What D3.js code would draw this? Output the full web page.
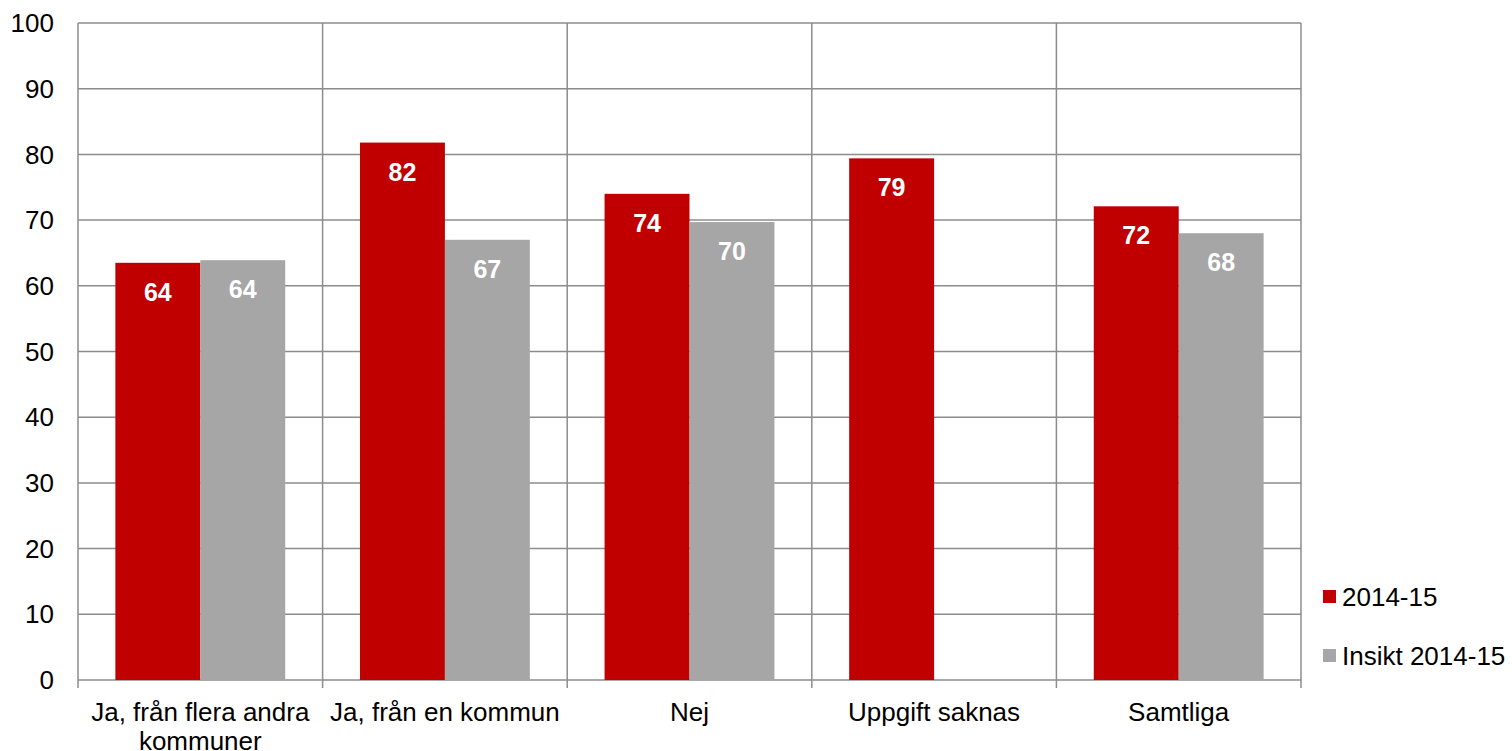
<!DOCTYPE html>
<html>
<head>
<meta charset="utf-8">
<script src="https://cdn.jsdelivr.net/npm/d3@7"></script>
<style>
body { margin: 0; background: #fff; }
svg text { font-family: "Liberation Sans", Arial, sans-serif; }
</style>
</head>
<body>
<div id="container"></div>
<script>
/* Data */
var categories = ["Ja, från flera andra kommuner", "Ja, från en kommun", "Nej", "Uppgift saknas", "Samtliga"];
var seriesNames = ["2014-15", "Insikt 2014-15"];
var values2014 = [63.5, 81.8, 74.0, 79.4, 72.1];
var valuesInsikt = [63.9, 67.0, 69.7, null, 68.0];
var labels2014 = ["64", "82", "74", "79", "72"];
var labelsInsikt = ["64", "67", "70", "", "68"];
var yTicks = [0, 10, 20, 30, 40, 50, 60, 70, 80, 90, 100];
var colors = ["#C00000", "#A6A6A6"];

var w = 1512, h = 751;
var margin = {left: 78, top: 23, right: 211, bottom: 71};
var plotW = w - margin.left - margin.right,
	plotH = h - margin.top - margin.bottom;

var svg = d3.select("#container").append("svg")
	.attr("width", w)
	.attr("height", h);

var g = svg.append("g")
	.attr("transform", "translate(" + margin.left + "," + margin.top + ")");

/* Scales */
var xScale = d3.scaleBand()
	.domain(categories)
	.range([0, plotW])
	.padding(0);
var inner = d3.scaleBand()
	.domain(seriesNames)
	.range([0, xScale.bandwidth()])
	.paddingOuter(0.44)
	.paddingInner(0);
var yScale = d3.scaleLinear()
	.domain([0, 100])
	.range([plotH, 0]);

/* Grid */
g.append("g").selectAll("line.h")
	.data(yTicks)
	.join("line")
	.attr("x1", 0).attr("x2", plotW)
	.attr("y1", d => yScale(d)).attr("y2", d => yScale(d))
	.attr("stroke", "#8c8c8c").attr("stroke-width", 1.5);

var bounds = categories.map(c => xScale(c)).concat([plotW]);
g.append("g").selectAll("line.v")
	.data(bounds)
	.join("line")
	.attr("x1", d => d).attr("x2", d => d)
	.attr("y1", 0).attr("y2", plotH + 8)
	.attr("stroke", "#8c8c8c").attr("stroke-width", 1.5);

/* Y labels */
g.append("g").selectAll("text")
	.data(yTicks)
	.join("text")
	.attr("x", -24)
	.attr("y", d => yScale(d))
	.attr("dy", "0.35em")
	.attr("text-anchor", "end")
	.style("font-size", "26px")
	.attr("fill", "#000")
	.text(d => d);

/* Bars */
var series = [values2014, valuesInsikt];
var seriesLabels = [labels2014, labelsInsikt];
series.forEach(function(vals, si) {
	var data = categories.map((c, i) => ({c: c, v: vals[i], l: seriesLabels[si][i]})).filter(d => d.v != null);
	g.append("g").selectAll("rect")
		.data(data)
		.join("rect")
		.attr("x", d => xScale(d.c) + inner(seriesNames[si]))
		.attr("width", inner.bandwidth())
		.attr("y", d => yScale(d.v))
		.attr("height", d => plotH - yScale(d.v))
		.attr("fill", colors[si]);
	g.append("g").selectAll("text")
		.data(data)
		.join("text")
		.attr("x", d => xScale(d.c) + inner(seriesNames[si]) + inner.bandwidth() / 2)
		.attr("y", d => yScale(d.v) + 38)
		.attr("text-anchor", "middle")
		.attr("fill", "#fff")
		.style("font-size", "25px")
		.style("font-weight", "bold")
		.text(d => d.l);
});

/* X labels */
var xLabelLines = [["Ja, från flera andra", "kommuner"], ["Ja, från en kommun"], ["Nej"], ["Uppgift saknas"], ["Samtliga"]];
categories.forEach(function(c, i) {
	var t = g.append("text")
		.attr("x", xScale(c) + xScale.bandwidth() / 2)
		.attr("y", plotH + 41)
		.attr("text-anchor", "middle")
		.style("font-size", "26px")
		.attr("fill", "#000");
	xLabelLines[i].forEach(function(line, j) {
		t.append("tspan")
			.attr("x", xScale(c) + xScale.bandwidth() / 2)
			.attr("dy", j === 0 ? 0 : 29)
			.text(line);
	});
});

/* Legend */
var legend = svg.append("g").attr("transform", "translate(1323,590)");
seriesNames.forEach(function(s, i) {
	var item = legend.append("g").attr("transform", "translate(0," + (i * 59) + ")");
	item.append("rect").attr("width", 13).attr("height", 13).attr("fill", colors[i]);
	item.append("text")
		.attr("x", 19).attr("y", 7)
		.attr("dy", "0.35em")
		.style("font-size", "26px")
		.attr("fill", "#000")
		.text(s);
});
</script>
</body>
</html>
